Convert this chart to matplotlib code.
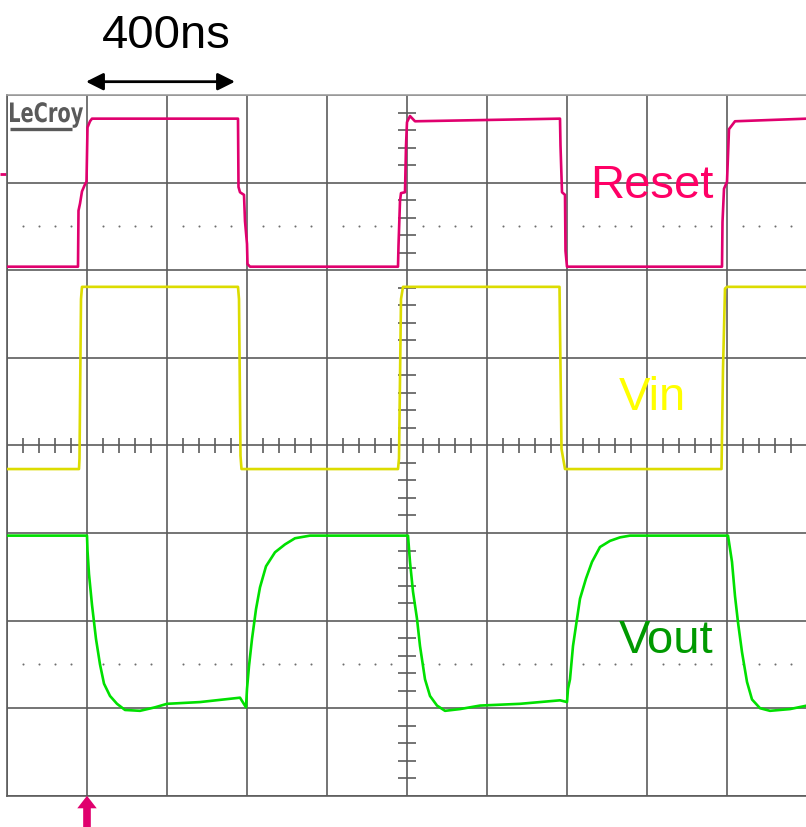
import matplotlib
matplotlib.use("Agg")
import matplotlib.pyplot as plt
import numpy as np
from matplotlib.textpath import TextPath
from matplotlib.patches import PathPatch
from matplotlib.font_manager import FontProperties
from matplotlib.transforms import Affine2D, IdentityTransform

# ---- data (time in ns, level in screen divisions, 0 = bottom of screen) ----
reset_t = [0, 177.5, 178.75, 182.5, 187.5, 195, 198.75, 201.25, 207.5, 212.5,
           577.5, 578.75, 582.5, 592.5, 595, 600, 601.25, 607.5,
           977.5, 978.75, 982.5, 985, 995, 997.5, 1000, 1007.5, 1020,
           1382.5, 1383.75, 1387.5, 1395, 1396.25, 1400,
           1787.5, 1788.75, 1792.5, 1800, 1805, 1820, 2000]
reset_v = [6.04, 6.04, 6.68, 6.76, 6.90, 6.98, 7.01, 7.63, 7.70, 7.73,
           7.73, 6.95, 6.89, 6.86, 6.56, 6.30, 6.07, 6.04,
           6.04, 6.28, 6.79, 6.88, 6.89, 7.42, 7.69, 7.76, 7.70,
           7.73, 7.42, 6.89, 6.86, 6.22, 6.04,
           6.04, 6.55, 6.93, 7.01, 7.61, 7.70, 7.73]

vin_t = [0, 180, 181.25, 185, 187.5, 577.5, 580, 583.75, 586.25,
         977.5, 980, 985, 990, 1381.25, 1386.25, 1395,
         1786.25, 1790, 1795, 1800, 2000]
vin_v = [3.73, 3.73, 3.85, 5.67, 5.81, 5.81, 5.67, 3.88, 3.73,
         3.73, 3.85, 5.67, 5.81, 5.81, 3.96, 3.73,
         3.73, 4.87, 5.79, 5.81, 5.81]

vout_t = [0, 200, 201.25, 205, 212.5, 222.5, 232.5, 242.5, 257.5, 275,
          295, 332.5, 370, 400, 482.5, 582.5, 597.5, 600, 605, 612.5,
          622.5, 632.5, 647.5, 670, 695, 720, 757.5, 1002.5, 1007.5, 1015,
          1025, 1032.5, 1045, 1057.5, 1075, 1095, 1132.5, 1182.5, 1282.5, 1382.5,
          1400, 1402.5, 1407.5, 1415, 1425, 1432.5, 1447.5, 1462.5, 1482.5, 1507.5,
          1532.5, 1557.5, 1802.5, 1812.5, 1820, 1827.5, 1837.5, 1850, 1862.5, 1882.5,
          1907.5, 1957.5, 2000]
vout_v = [2.97, 2.97, 2.80, 2.53, 2.18, 1.79, 1.50, 1.28, 1.14, 1.05,
          0.98, 0.97, 1.01, 1.05, 1.07, 1.12, 1.01, 1.22, 1.48, 1.79,
          2.13, 2.38, 2.62, 2.78, 2.87, 2.94, 2.97, 2.97, 2.67, 2.33,
          2.02, 1.71, 1.33, 1.14, 1.03, 0.97, 0.99, 1.03, 1.05, 1.09,
          1.07, 1.22, 1.33, 1.71, 2.02, 2.25, 2.48, 2.67, 2.84, 2.91,
          2.95, 2.97, 2.97, 2.67, 2.28, 1.98, 1.64, 1.30, 1.10, 1.00,
          0.97, 0.99, 1.03]

labels = ["Reset", "Vin", "Vout"]
scale_label = "400ns"
scale_span = [197.5, 570]

# ---- figure ----
W, H = 806, 828
fig = plt.figure(figsize=(W / 100, H / 100), dpi=100)
ax = fig.add_axes([7 / W, 31.2 / H, 800 / W, 700.8 / H])
ax.set_xlim(0, 2000)
ax.set_ylim(0, 8)

grid_c = "#5c5c5c"
ax.set_xticks(np.arange(0, 2001, 200))
ax.set_yticks(np.arange(0, 9, 1))
ax.grid(True, color=grid_c, lw=1.2)
ax.tick_params(length=0, labelbottom=False, labelleft=False)
for s in ["left", "bottom", "right"]:
    ax.spines[s].set_color(grid_c)
    ax.spines[s].set_linewidth(1.2)
ax.spines["top"].set_color("#a0a0a0")
ax.spines["top"].set_linewidth(1.2)

# center cross minor ticks
xm = [x for x in np.arange(0, 2001, 40) if x % 200 != 0]
ax.vlines(xm, 4 - 0.085, 4 + 0.085, color=grid_c, lw=1.2)
ym = [y for y in np.arange(0.2, 8, 0.2) if abs(y - round(y)) > 1e-6]
ax.hlines(ym, 1000 - 23, 1000 + 23, color=grid_c, lw=1.2)

# dotted rows
for yy in (1.5, 6.5):
    ax.scatter(xm, [yy] * len(xm), s=2.2, color="#6e6e6e", lw=0, zorder=2)

# traces
ax.plot(reset_t, reset_v, color="#e0006e", lw=1.9, zorder=5)
ax.plot(vin_t, vin_v, color="#dcdc00", lw=1.9, zorder=5)
ax.plot(vout_t, vout_v, color="#00e000", lw=1.9, zorder=5)

# labels
fnt = "Liberation Sans"
ax.text(1612.5, 6.836, labels[0], color="#ff0066", fontsize=34, family=fnt,
        ha="center", va="baseline", zorder=6)
ax.text(1613.75, 4.416, labels[1], color="#ffff00", fontsize=34, family=fnt,
        ha="center", va="baseline", zorder=6)
ax.text(1648.75, 1.642, labels[2], color="#009900", fontsize=34, family=fnt,
        ha="center", va="baseline", zorder=6)

# 400ns scale arrow
ax.annotate("", xy=(scale_span[1], 8.152), xytext=(scale_span[0], 8.152),
            arrowprops=dict(arrowstyle="<|-|>,head_length=0.4,head_width=0.2",
                            mutation_scale=26, color="black", lw=2,
                            shrinkA=0, shrinkB=0),
            annotation_clip=False)
ax.text(397.5, 8.544, scale_label, fontsize=34, family=fnt,
        ha="center", va="baseline", color="black", clip_on=False)

# trigger arrow at bottom
ax.annotate("", xy=(200, 0.0), xytext=(200, -0.40),
            arrowprops=dict(arrowstyle="simple,head_length=0.36,head_width=0.56,tail_width=0.22",
                            mutation_scale=25, color="#e0006e", lw=0,
                            shrinkA=0, shrinkB=0),
            annotation_clip=False)

# ground marker at left edge
ax.plot([-7 / 800, -1.5 / 800], [7.098 / 8, 7.098 / 8], transform=ax.transAxes,
        color="#e0006e", lw=2, clip_on=False, solid_capstyle="butt")

# LeCroy logo (text path stretched to the logo box, in display pixels)
tp = TextPath((0, 0), "LeCroy", size=1,
              prop=FontProperties(family="DejaVu Sans", weight="bold"))
ext = tp.get_extents()
cap = 0.729
target_w, target_cap = 73.0, 19.5
sx = target_w / ext.width
sy = target_cap / cap
x0_px, base_px = 10.0, 123.0  # from top of image
tr = Affine2D().translate(-ext.x0, 0).scale(sx, sy).translate(x0_px, H - base_px)
fig.patches.append(PathPatch(tp, transform=tr + IdentityTransform(),
                             color="#5a5a5a", lw=0))
ax.plot([3 / 800, 65 / 800], [(796.8 - 129.5) / 700.8] * 2, transform=ax.transAxes,
        color="#5a5a5a", lw=2.4, solid_capstyle="butt")

fig.savefig("out.png", dpi=100)
